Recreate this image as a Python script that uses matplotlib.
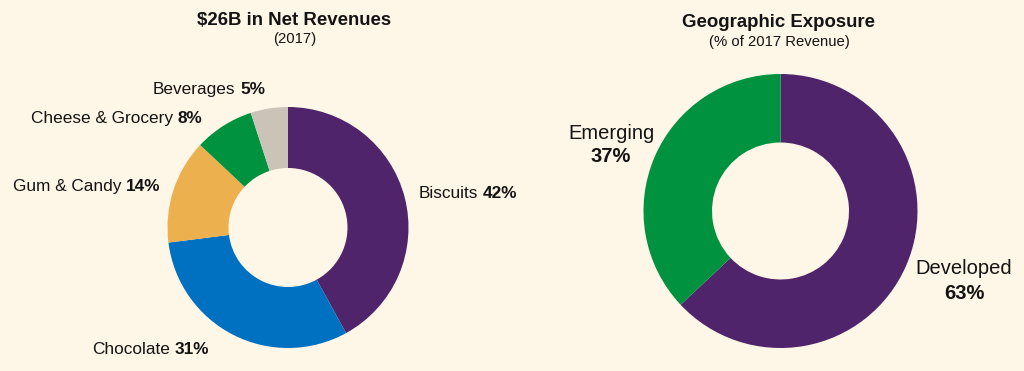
import matplotlib
matplotlib.use("Agg")
import matplotlib.pyplot as plt

plt.rcParams['font.family'] = ['Liberation Sans', 'DejaVu Sans']

## chart data
rev_labels = ["Biscuits", "Chocolate", "Gum & Candy", "Cheese & Grocery", "Beverages"]
rev_pct = [42, 31, 14, 8, 5]
rev_colors = ["#50246A", "#0070C0", "#EDB04F", "#00923F", "#CCC3B8"]

geo_labels = ["Developed", "Emerging"]
geo_pct = [63, 37]
geo_colors = ["#50246A", "#00923F"]

BG = "#FEF6E7"
INK = "#141414"
W, H = 1024, 371

fig = plt.figure(figsize=(W / 100, H / 100), dpi=100, facecolor=BG)
ax = fig.add_axes([0, 0, 1, 1])
ax.set_facecolor(BG)

## donuts, clockwise from 12 o'clock (pixel units, y measured from top)
ax.pie(rev_pct, colors=rev_colors, startangle=90, counterclock=False,
       radius=120.5, center=(288, H - 227.5),
       wedgeprops=dict(width=61, edgecolor='none', linewidth=0))
ax.pie(geo_pct, colors=geo_colors, startangle=90, counterclock=False,
       radius=137, center=(780.5, H - 211),
       wedgeprops=dict(width=68.5, edgecolor='none', linewidth=0))

ax.set_xlim(0, W)
ax.set_ylim(0, H)
ax.set_aspect('equal')
ax.axis('off')

## titles
ax.text(294.5, H - 25, "$26B in Net Revenues", ha='center', va='baseline',
        fontsize=13.4, fontweight='bold', color=INK)
ax.text(294.5, H - 43, "(2017)", ha='center', va='baseline',
        fontsize=10.7, color=INK)
ax.text(778.5, H - 27, "Geographic Exposure", ha='center', va='baseline',
        fontsize=13.4, fontweight='bold', color=INK)
ax.text(779, H - 46, "(% of 2017 Revenue)", ha='center', va='baseline',
        fontsize=10.7, color=INK)

## left labels: name then bold percent on one line
rev_label_pos = [(419, 198), (92, 354), (13, 191), (31, 123), (153, 94)]
for name, pct, (px, py) in zip(rev_labels, rev_pct, rev_label_pos):
    t = ax.text(px, H - py, name, ha='left', va='baseline',
                fontsize=12.4, color=INK)
    ax.annotate("%d%%" % pct, xy=(1, 0), xycoords=t, xytext=(3.4, 0),
                textcoords='offset points', ha='left', va='bottom',
                fontsize=12.4, fontweight='bold', color=INK)

## right labels: name above bold percent
geo_label_pos = [(964, 274, 299), (611, 139, 162)]
for name, pct, (px, py1, py2) in zip(geo_labels, geo_pct, geo_label_pos):
    ax.text(px, H - py1, name, ha='center', va='baseline',
            fontsize=14.5, color=INK)
    ax.text(px, H - py2, "%d%%" % pct, ha='center', va='baseline',
            fontsize=14.5, fontweight='bold', color=INK)

fig.savefig("out.png", dpi=100, facecolor=BG)
